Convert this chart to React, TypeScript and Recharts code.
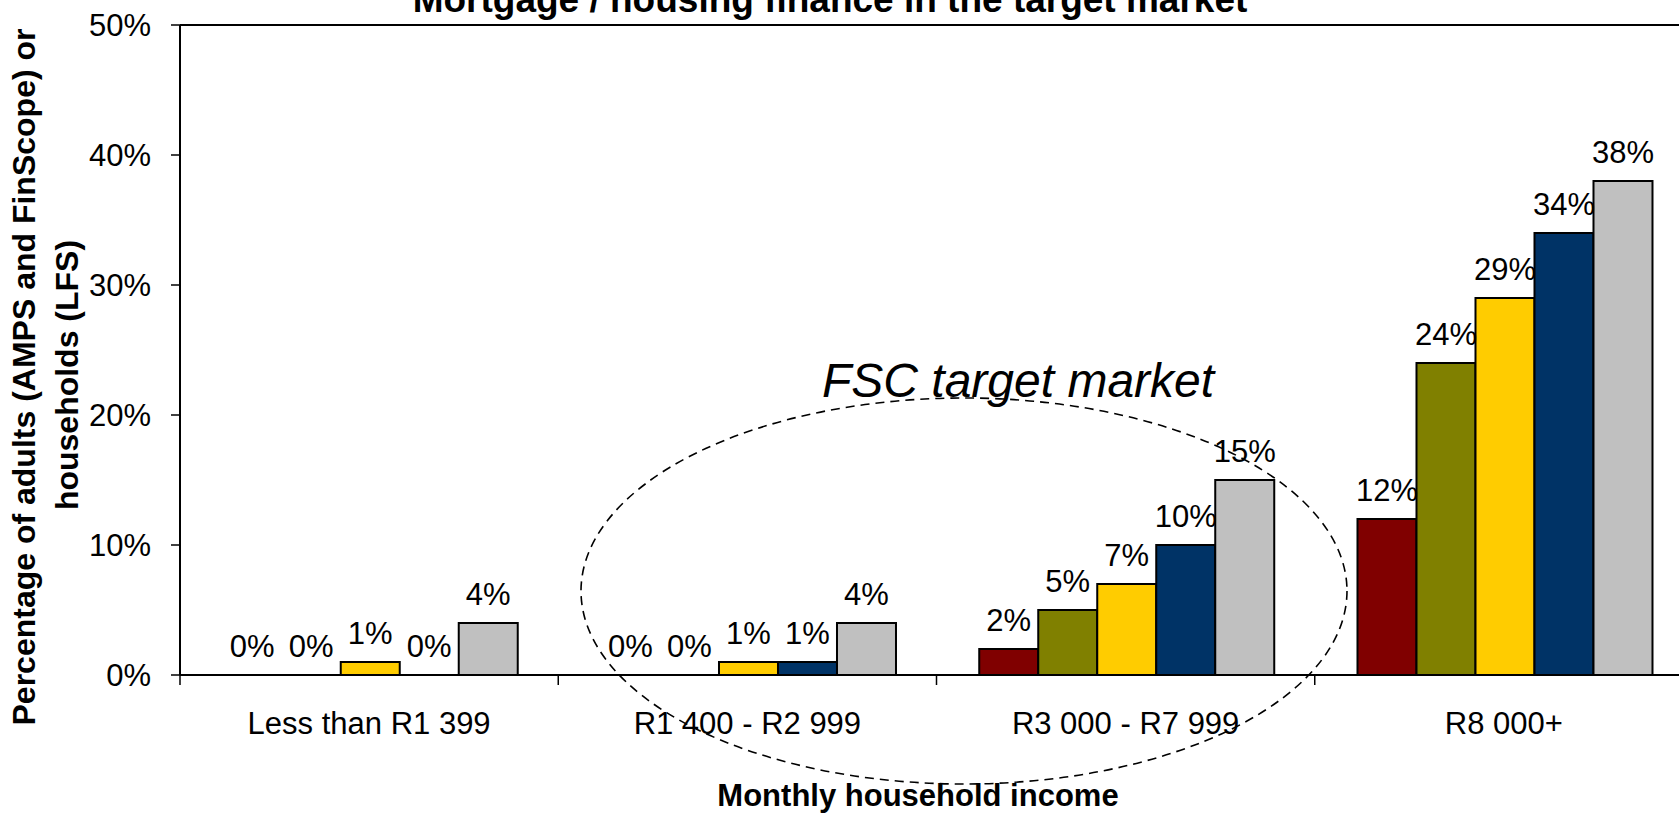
import { BarChart, Bar, XAxis, YAxis, LabelList, ReferenceLine } from "recharts";

const categories = ["Less than R1 399", "R1 400 - R2 999", "R3 000 - R7 999", "R8 000+"];
const series1 = [0, 0, 2, 12];
const series2 = [0, 0, 5, 24];
const series3 = [1, 1, 7, 29];
const series4 = [0, 1, 10, 34];
const series5 = [4, 4, 15, 38];
const yTicks = [0, 10, 20, 30, 40, 50];

const seriesKeys = ["s1", "s2", "s3", "s4", "s5"];
const seriesColors = ["#800000", "#808000", "#FFCC00", "#003366", "#C0C0C0"];

const data = categories.map((name, i) => ({
  name,
  s1: series1[i],
  s2: series2[i],
  s3: series3[i],
  s4: series4[i],
  s5: series5[i],
}));

const FONT = "'Liberation Sans', Arial, sans-serif";

function CategoryTick(props: any) {
  const { x, y, payload, width, visibleTicksCount } = props;
  const half = payload?.offset ?? width / visibleTicksCount / 2;
  return (
    <g>
      <line x1={x - half} y1={y - 10} x2={x - half} y2={y} stroke="#000" strokeWidth={1.5} />
      <text x={x} y={y} dy={49} textAnchor="middle" fontSize={31} fontFamily={FONT} fill="#000">
        {payload.value}
      </text>
    </g>
  );
}

export default function App() {
  return (
    <div style={{ position: "absolute", left: 0, top: 0, width: 1679, height: 815, overflow: "hidden", background: "#fff" }}>
      <BarChart
        width={1720}
        height={815}
        data={data}
        margin={{ top: 25, right: 27, left: 100, bottom: 40 }}
        barGap={0}
        barCategoryGap="11.3%"
      >
        <XAxis
          dataKey="name"
          height={100}
          axisLine={{ stroke: "#000", strokeWidth: 2 }}
          tickLine={false}
          tickSize={10}
          tickMargin={0}
          interval={0}
          tick={<CategoryTick />}
        />
        <YAxis
          width={80}
          domain={[0, 50]}
          ticks={yTicks}
          tickFormatter={(v) => `${v}%`}
          axisLine={{ stroke: "#000", strokeWidth: 2 }}
          tickLine={{ stroke: "#000", strokeWidth: 1.5 }}
          tickSize={9}
          tickMargin={20}
          tick={{ fill: "#000", fontSize: 31, fontFamily: FONT }}
        />
        <ReferenceLine y={50} stroke="#000" strokeWidth={2} />
        {seriesKeys.map((k, i) => (
          <Bar
            key={k}
            dataKey={k}
            fill={seriesColors[i]}
            stroke="#000"
            strokeWidth={2}
            minPointSize={0.01}
            isAnimationActive={false}
          >
            <LabelList
              dataKey={k}
              position="top"
              offset={18}
              formatter={(v: any) => `${v}%`}
              style={{ fill: "#000", fontSize: 31, fontFamily: FONT }}
            />
          </Bar>
        ))}
      </BarChart>
      <svg
        width={1679}
        height={815}
        style={{ position: "absolute", left: 0, top: 0, pointerEvents: "none" }}
      >
        <text x={830} y={12} textAnchor="middle" fontSize={37} fontWeight="bold" fontFamily={FONT} fill="#000">
          Mortgage / housing finance in the target market
        </text>
        <g fontSize={32} fontWeight="bold" fontFamily={FONT} fill="#000">
          <text transform="translate(35,377) rotate(-90)" textAnchor="middle">
            Percentage of adults (AMPS and FinScope) or
          </text>
          <text transform="translate(78,375) rotate(-90)" textAnchor="middle">
            households (LFS)
          </text>
        </g>
        <text x={918} y={806} textAnchor="middle" fontSize={31} fontWeight="bold" fontFamily={FONT} fill="#000">
          Monthly household income
        </text>
        <ellipse cx={964} cy={591} rx={383} ry={193} fill="none" stroke="#000" strokeWidth={1.6} strokeDasharray="9 6" />
        <text x={822} y={397} fontSize={48} fontStyle="italic" fontFamily={FONT} fill="#000">
          FSC target market
        </text>
      </svg>
    </div>
  );
}
